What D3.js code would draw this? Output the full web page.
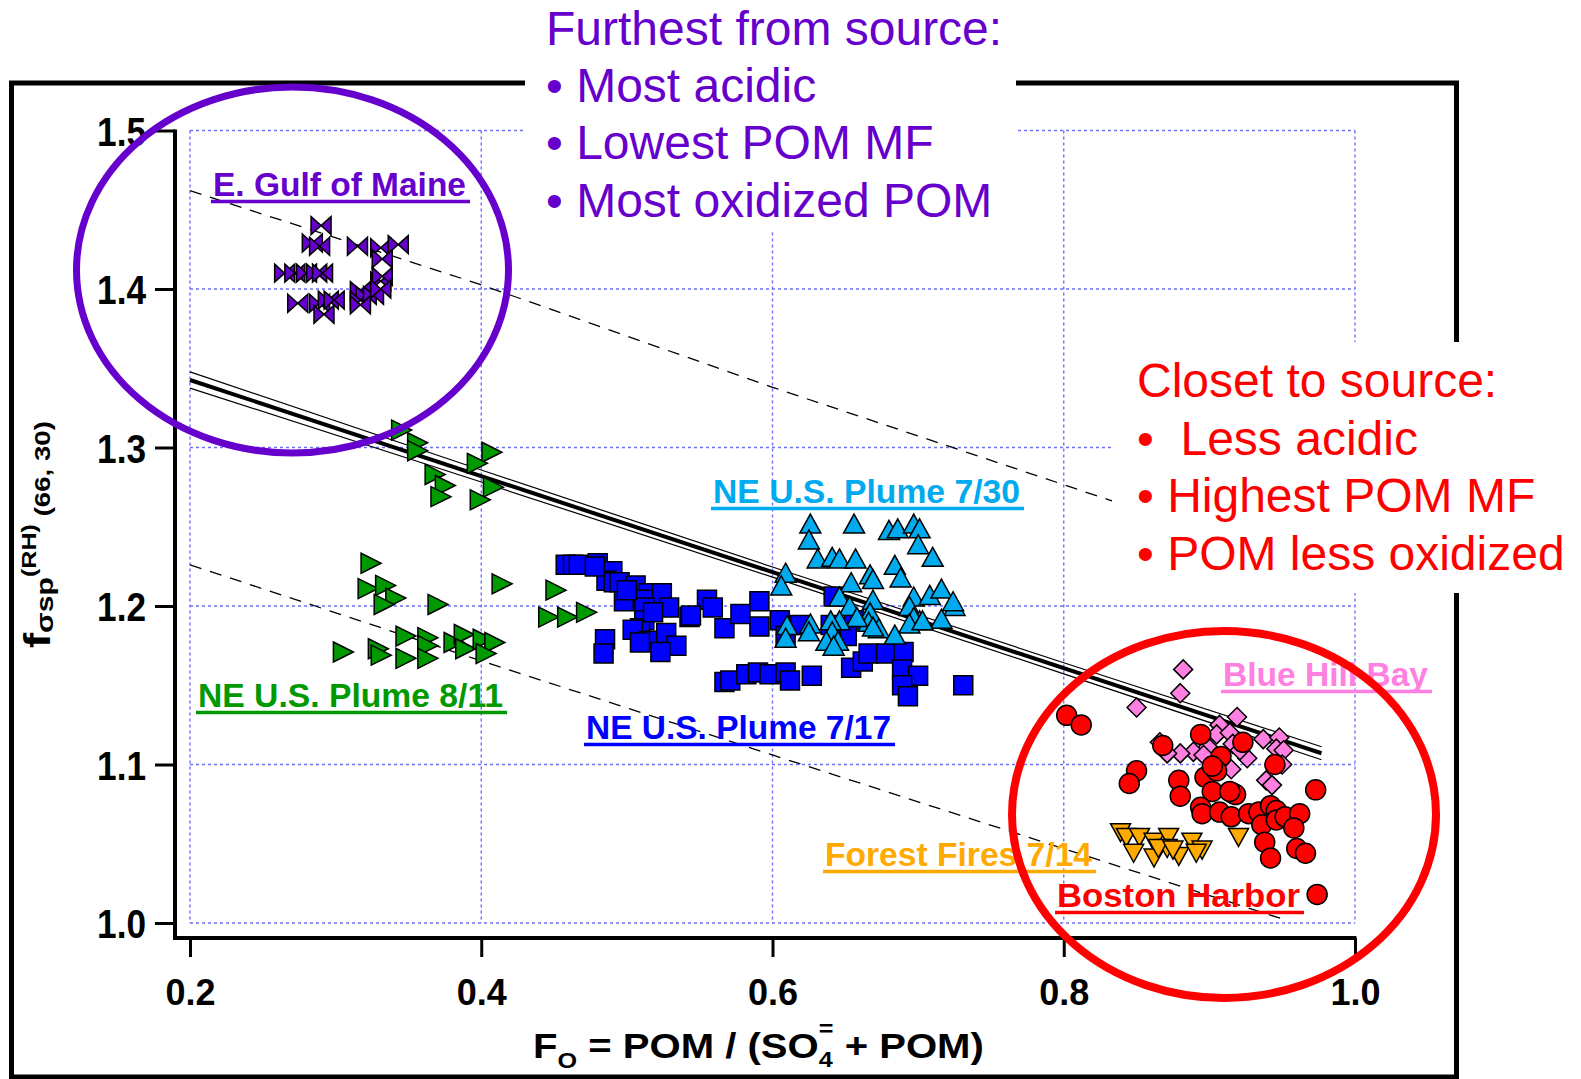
<!DOCTYPE html>
<html>
<head>
<meta charset="utf-8">
<title>f(RH) vs organic mass fraction</title>
<script src="https://d3js.org/d3.v7.min.js"></script>
<style>
  body { margin: 0; background: #fff; }
  svg { display: block; }
  text { font-family: "Liberation Sans", Arial, sans-serif; }
</style>
</head>
<body>
<div id="chart"></div>
<script>
// axis ticks
const xTicks = [0.2, 0.4, 0.6, 0.8, 1.0];
const yTicks = [1.0, 1.1, 1.2, 1.3, 1.4, 1.5];

// points per air mass: [Fo, f(RH)]
const gulfMaine = [
  [0.290,1.440],[0.284,1.429],[0.289,1.427],[0.315,1.427],[0.331,1.426],[0.343,1.428],[0.332,1.419],
  [0.265,1.410],[0.272,1.410],[0.280,1.410],[0.287,1.410],[0.291,1.410],
  [0.331,1.405],[0.332,1.408],[0.317,1.399],[0.321,1.396],
  [0.274,1.391],[0.289,1.391],[0.295,1.393],[0.299,1.393],[0.292,1.384],
  [0.317,1.393],[0.326,1.396],[0.331,1.400],[0.317,1.390]
];
const plume0811 = [
  [0.345,1.311],[0.356,1.303],[0.356,1.298],[0.407,1.297],[0.397,1.290],[0.368,1.283],[0.375,1.276],
  [0.372,1.269],[0.408,1.275],[0.399,1.267],
  [0.324,1.227],[0.322,1.211],[0.334,1.213],[0.341,1.205],[0.333,1.201],[0.370,1.201],[0.414,1.214],
  [0.305,1.171],[0.329,1.173],[0.331,1.169],[0.348,1.181],[0.363,1.180],[0.363,1.175],[0.348,1.167],
  [0.363,1.167],[0.381,1.177],[0.388,1.182],[0.389,1.173],[0.401,1.179],[0.409,1.177],[0.403,1.170],
  [0.451,1.210],[0.446,1.193],[0.459,1.193],[0.472,1.196]
];
const plume0717 = [
  [0.458,1.226],[0.463,1.226],[0.467,1.226],[0.480,1.227],[0.490,1.222],[0.486,1.216],[0.491,1.215],
  [0.495,1.215],[0.506,1.213],[0.515,1.208],[0.524,1.208],[0.498,1.203],[0.511,1.204],[0.512,1.199],
  [0.529,1.199],[0.512,1.191],[0.509,1.186],[0.504,1.185],[0.515,1.178],[0.527,1.183],[0.534,1.175],
  [0.523,1.171],[0.509,1.177],[0.485,1.179],[0.484,1.170],[0.543,1.193],[0.555,1.204],[0.559,1.199],
  [0.567,1.186],[0.578,1.195],[0.591,1.203],[0.591,1.187],[0.605,1.191],[0.609,1.181],[0.619,1.188],
  [0.567,1.152],[0.571,1.153],[0.582,1.157],[0.590,1.158],[0.598,1.157],[0.609,1.158],[0.612,1.153],
  [0.627,1.156],[0.654,1.161],[0.662,1.165],[0.666,1.170],[0.678,1.170],[0.690,1.171],[0.689,1.160],
  [0.700,1.156],[0.689,1.150],[0.693,1.143],[0.731,1.150],[0.642,1.206],[0.656,1.191],[0.651,1.181],
  [0.544,1.194],[0.640,1.188],[0.518,1.196],[0.500,1.210],[0.478,1.225]
];
const plume0730 = [
  [0.626,1.252],[0.625,1.242],[0.656,1.252],[0.680,1.248],[0.686,1.249],[0.697,1.252],[0.701,1.249],
  [0.700,1.239],[0.710,1.231],[0.631,1.230],[0.641,1.231],[0.646,1.230],[0.657,1.230],[0.684,1.226],
  [0.688,1.218],[0.667,1.220],[0.669,1.217],[0.654,1.215],[0.609,1.221],[0.606,1.213],[0.646,1.206],
  [0.653,1.200],[0.669,1.204],[0.667,1.196],[0.666,1.190],[0.697,1.206],[0.694,1.200],[0.708,1.207],
  [0.716,1.211],[0.725,1.200],[0.724,1.203],[0.716,1.192],[0.701,1.191],[0.697,1.193],[0.694,1.189],
  [0.658,1.193],[0.646,1.191],[0.640,1.191],[0.641,1.184],[0.637,1.178],[0.645,1.178],[0.626,1.189],
  [0.625,1.184],[0.610,1.188],[0.609,1.180],[0.673,1.186],[0.684,1.182],[0.669,1.187],[0.642,1.175],
  [0.703,1.191]
];
const blueHill = [
  [0.882,1.160],[0.880,1.145],[0.850,1.136],[0.919,1.130],[0.907,1.125],[0.905,1.119],[0.914,1.120],
  [0.916,1.113],[0.899,1.111],[0.889,1.108],[0.880,1.107],[0.896,1.106],[0.937,1.116],[0.948,1.117],
  [0.946,1.110],[0.951,1.109],[0.926,1.104],[0.921,1.109],[0.915,1.097],[0.939,1.090],[0.943,1.087],
  [0.866,1.114],[0.950,1.100],[0.871,1.107]
];
const forestFires = [
  [0.839,1.057],[0.843,1.054],[0.852,1.054],[0.848,1.044],[0.862,1.051],[0.862,1.041],[0.872,1.054],
  [0.871,1.047],[0.879,1.042],[0.888,1.051],[0.895,1.046],[0.920,1.054],[0.865,1.047],[0.891,1.044],
  [0.875,1.046]
];
const bostonHarbor = [
  [0.802,1.131],[0.812,1.125],[0.868,1.112],[0.894,1.119],[0.923,1.114],[0.908,1.105],[0.945,1.100],
  [0.850,1.096],[0.845,1.088],[0.879,1.090],[0.897,1.092],[0.905,1.096],[0.880,1.080],[0.902,1.083],
  [0.916,1.082],[0.918,1.081],[0.894,1.073],[0.895,1.069],[0.907,1.070],[0.915,1.067],[0.927,1.069],
  [0.934,1.070],[0.942,1.074],[0.946,1.071],[0.936,1.062],[0.946,1.065],[0.952,1.067],[0.962,1.069],
  [0.958,1.060],[0.938,1.051],[0.942,1.041],[0.960,1.047],[0.966,1.044],[0.973,1.084],[0.974,1.018],
  [0.902,1.099],[0.914,1.083]
];

// regression fit, its confidence band and prediction band
const fitLine = [[0.2,1.3426],[0.977,1.1071]];
const confUpper = [[0.2,1.3477],[0.4,1.2858],[0.6,1.2246],[0.8,1.1642],[0.977,1.1112]];
const confLower = [[0.2,1.3375],[0.4,1.2782],[0.6,1.2182],[0.8,1.1572],[0.977,1.1030]];
const predUpper = [[0.2,1.462],[0.397,1.4036],[0.6,1.338],[0.831,1.267],[0.975,1.224]];
const predLower = [[0.2,1.226],[0.408,1.163],[0.6,1.106],[0.952,1.002]];

const groupNames = ["E. Gulf of Maine", "NE U.S. Plume 8/11", "NE U.S. Plume 7/17",
  "NE U.S. Plume 7/30", "Blue Hill Bay", "Forest Fires 7/14", "Boston Harbor"];
const purpleNotes = ["Furthest from source:", "\u2022 Most acidic", "\u2022 Lowest POM MF", "\u2022 Most oxidized POM"];
const redNotes = ["Closet to source:", "\u2022  Less acidic", "\u2022 Highest POM MF", "\u2022 POM less oxidized"];

const width = 1581, height = 1079;
const purple = "#6600cc", green = "#009900", blue = "#0000ff", cyan = "#00aaee",
      pink = "#ff80e0", orange = "#ffaa00", red = "#ff0000";

const svg = d3.select("#chart").append("svg")
  .attr("width", width).attr("height", height);

const x = d3.scaleLinear().domain([0.2, 1.0]).range([190, 1355]);
const y = d3.scaleLinear().domain([1.0, 1.5]).range([923, 130.5]);

// outer frame
svg.append("rect")
  .attr("x", 11.5).attr("y", 83).attr("width", 1445).attr("height", 994)
  .attr("fill", "none").attr("stroke", "#000").attr("stroke-width", 5);

// dotted grid
const grid = svg.append("g").attr("stroke", "#6f6fff").attr("stroke-width", 1.4)
  .attr("stroke-dasharray", "3,3");
grid.selectAll(".gx").data(xTicks).join("line")
  .attr("x1", d => x(d)).attr("x2", d => x(d)).attr("y1", y(1.5)).attr("y2", y(1.0));
grid.selectAll(".gy").data(yTicks).join("line")
  .attr("y1", d => y(d)).attr("y2", d => y(d)).attr("x1", x(0.2)).attr("x2", x(1.0));

// axes
const xAxisY = 938, yAxisX = 175;
const xAxis = svg.append("g").attr("transform", `translate(0,${xAxisY})`)
  .call(d3.axisBottom(x).tickValues(xTicks).tickSize(19).tickFormat(d3.format(".1f")));
xAxis.select(".domain").remove();
xAxis.selectAll(".tick line").attr("stroke", "#000").attr("stroke-width", 3);
xAxis.selectAll(".tick text").attr("y", 67).attr("dy", null)
  .attr("font-size", 36).attr("font-weight", "bold").attr("fill", "#000")
  .attr("font-family", "Liberation Sans, Arial, sans-serif");
svg.append("line").attr("x1", yAxisX - 2).attr("x2", x(1.0) + 1.5)
  .attr("y1", xAxisY).attr("y2", xAxisY).attr("stroke", "#000").attr("stroke-width", 4);

const yAxis = svg.append("g").attr("transform", `translate(${yAxisX},0)`)
  .call(d3.axisLeft(y).tickValues(yTicks).tickSize(20).tickFormat(d3.format(".1f")));
yAxis.select(".domain").remove();
yAxis.selectAll(".tick line").attr("stroke", "#000").attr("stroke-width", 3);
yAxis.selectAll(".tick text").attr("x", null).attr("dy", null)
  .attr("transform", "translate(-29,14.5) scale(0.88,1)")
  .attr("font-size", 40).attr("font-weight", "bold").attr("fill", "#000")
  .attr("font-family", "Liberation Sans, Arial, sans-serif");
svg.append("line").attr("x1", yAxisX).attr("x2", yAxisX)
  .attr("y1", y(1.5) - 1).attr("y2", xAxisY + 2).attr("stroke", "#000").attr("stroke-width", 4);

// fit lines
const line = d3.line().x(d => x(d[0])).y(d => y(d[1]));
[predUpper, predLower].forEach(p => {
  svg.append("path").attr("d", line(p)).attr("fill", "none")
    .attr("stroke", "#000").attr("stroke-width", 1.3).attr("stroke-dasharray", "12,9");
});
[confUpper, confLower].forEach(p => {
  svg.append("path").attr("d", line(p)).attr("fill", "none")
    .attr("stroke", "#000").attr("stroke-width", 1.2);
});
svg.append("path").attr("d", line(fitLine)).attr("fill", "none")
  .attr("stroke", "#000").attr("stroke-width", 4);

// markers
const shapes = {
  bowtie: "M-10,-9L0,0L-10,9Z M10,-9L0,0L10,9Z",
  right: "M-9.5,-10L10.5,0L-9.5,10Z",
  square: "M-9.5,-9.5H9.5V9.5H-9.5Z",
  up: "M0,-9.5L10.5,9.5H-10.5Z",
  diamond: "M0,-9.5L9.5,0L0,9.5L-9.5,0Z",
  down: "M-10,-9H10L0,9Z",
  circle: d3.symbol(d3.symbolCircle, Math.PI * 100)()
};
const series = [
  { data: plume0811, shape: "right", fill: green },
  { data: gulfMaine, shape: "bowtie", fill: purple },
  { data: plume0717, shape: "square", fill: blue },
  { data: plume0730, shape: "up", fill: cyan },
  { data: blueHill, shape: "diamond", fill: pink },
  { data: forestFires, shape: "down", fill: orange },
  { data: bostonHarbor, shape: "circle", fill: red }
];
series.forEach(s => {
  svg.append("g").selectAll("path").data(s.data).join("path")
    .attr("d", shapes[s.shape])
    .attr("transform", d => `translate(${x(d[0])},${y(d[1])})`)
    .attr("fill", s.fill).attr("stroke", "#000").attr("stroke-width", 1.5)
    .attr("stroke-linejoin", "miter");
});

// underlined group labels
const labelLayout = [
  { x: 213, y: 196, w: 253, c: purple },
  { x: 198, y: 707, w: 305, c: green },
  { x: 586, y: 739, w: 305, c: blue },
  { x: 713, y: 503, w: 307, c: cyan },
  { x: 1223, y: 686, w: 205, c: pink },
  { x: 825, y: 866, w: 267, c: orange },
  { x: 1057, y: 907, w: 243, c: red }
];
groupNames.forEach((name, i) => {
  const L = labelLayout[i];
  svg.append("text").attr("x", L.x).attr("y", L.y)
    .attr("font-size", 33).attr("font-weight", "bold").attr("fill", L.c)
    .attr("textLength", L.w).attr("lengthAdjust", "spacingAndGlyphs")
    .text(name);
  svg.append("line").attr("x1", L.x - 2).attr("x2", L.x + L.w + 4)
    .attr("y1", L.y + 5.5).attr("y2", L.y + 5.5)
    .attr("stroke", L.c).attr("stroke-width", 3.5);
});

// highlight ellipses
svg.append("ellipse").attr("cx", 292.5).attr("cy", 270).attr("rx", 216).attr("ry", 183)
  .attr("fill", "none").attr("stroke", purple).attr("stroke-width", 7);
svg.append("ellipse").attr("cx", 1224).attr("cy", 814.5).attr("rx", 212).attr("ry", 183.5)
  .attr("fill", "none").attr("stroke", red).attr("stroke-width", 8);

// axis titles
const yTitle = svg.append("text").attr("font-weight", "bold").attr("fill", "#000");
yTitle.append("tspan").attr("font-size", 36).text("f");
yTitle.append("tspan").attr("font-size", 24).attr("dy", 3).text("\u03c3sp");
yTitle.append("tspan").attr("font-size", 20).attr("dy", -17).text("(RH)");
yTitle.append("tspan").attr("font-size", 22).attr("dy", 14).text(" (66, 30)");
const yLen = yTitle.node().getBBox().width;
yTitle.attr("transform", `translate(50,648) rotate(-90) scale(${227 / yLen},1)`);

const xTitle = svg.append("text").attr("font-weight", "bold").attr("fill", "#000");
xTitle.append("tspan").attr("font-size", 35).text("F");
xTitle.append("tspan").attr("font-size", 22).attr("dy", 10).text("O");
xTitle.append("tspan").attr("font-size", 35).attr("dy", -10).text(" = POM / (SO");
xTitle.append("tspan").attr("font-size", 22).attr("dy", 9).text("4");
xTitle.append("tspan").attr("font-size", 22).attr("dy", -31).attr("dx", -12.2).text("=");
xTitle.append("tspan").attr("font-size", 35).attr("dy", 22).text(" + POM)");
const xLen = xTitle.node().getBBox().width;
xTitle.attr("transform", `translate(533,1058) scale(${451 / xLen},1)`);

// note boxes
svg.append("rect").attr("x", 525).attr("y", 0).attr("width", 491).attr("height", 232).attr("fill", "#fff");
svg.append("rect").attr("x", 1112).attr("y", 342).attr("width", 469).attr("height", 251).attr("fill", "#fff");
svg.append("g").selectAll("text").data(purpleNotes).join("text")
  .attr("x", 546).attr("y", (d, i) => 45 + i * 57.2)
  .attr("font-size", 48).attr("fill", purple).style("white-space", "pre")
  .text(d => d);
svg.append("g").selectAll("text").data(redNotes).join("text")
  .attr("x", 1137).attr("y", (d, i) => 396.7 + i * 57.8)
  .attr("font-size", 48).attr("fill", red).style("white-space", "pre")
  .text(d => d);
</script>
</body>
</html>
